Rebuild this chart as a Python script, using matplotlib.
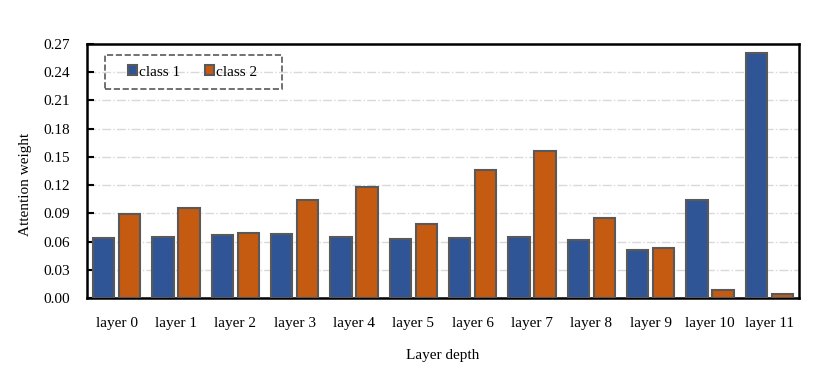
import numpy as np
import matplotlib.pyplot as plt
from matplotlib.patches import Rectangle

plt.rcParams['font.family'] = ['Liberation Serif', 'DejaVu Serif']

layers = ['layer %d' % i for i in range(12)]
class1 = [0.064, 0.065, 0.067, 0.068, 0.065, 0.063, 0.064, 0.065, 0.062, 0.051, 0.104, 0.260]
class2 = [0.089, 0.096, 0.069, 0.104, 0.118, 0.079, 0.136, 0.156, 0.085, 0.053, 0.008, 0.004]
yticks = [0.00, 0.03, 0.06, 0.09, 0.12, 0.15, 0.18, 0.21, 0.24, 0.27]

fig = plt.figure(figsize=(8.3, 3.68), dpi=100)
ax = fig.add_axes([0.1048, 0.1902, 0.8579, 0.6902])

x = np.arange(len(layers))
w = 0.36
ax.bar(x - 0.22, class1, w, color='#2F5597', edgecolor='#595959', linewidth=1.5,
       label='class 1', zorder=3)
ax.bar(x + 0.22, class2, w, color='#C55A11', edgecolor='#595959', linewidth=1.5,
       label='class 2', zorder=3)

ax.set_xlim(-0.5, len(layers) - 0.5)
ax.set_ylim(0, 0.27)
ax.set_yticks(yticks)
ax.set_yticklabels(['%.2f' % t for t in yticks])
ax.set_xticks(x)
ax.set_xticklabels(layers)
ax.tick_params(axis='x', length=0, pad=14, labelsize=11)
ax.tick_params(axis='y', direction='in', length=5, width=1.5, pad=12, labelsize=11)

ax.grid(axis='y', color='#d9d9d9', linestyle='-.', linewidth=1, zorder=0)
for s in ax.spines.values():
    s.set_linewidth(1.8)
    s.set_color('black')

ax.set_xlabel('Layer depth', fontsize=11, labelpad=13)
ax.set_ylabel('Attention weight', fontsize=11)
ax.yaxis.set_label_coords(-0.077, 0.449)

leg = ax.legend(loc='center left', ncol=2, bbox_to_anchor=(0.0576, 0.89), fontsize=11,
                handlelength=0.6, handleheight=0.6, handletextpad=0.15,
                columnspacing=1.6, borderpad=0, borderaxespad=0, frameon=False)
ax.add_patch(Rectangle((0.0253, 0.823), 0.2486, 0.134, transform=ax.transAxes,
                       fill=False, edgecolor='#595959', linestyle='--', linewidth=1.2,
                       zorder=5))

fig.savefig('out.png', dpi=100)
